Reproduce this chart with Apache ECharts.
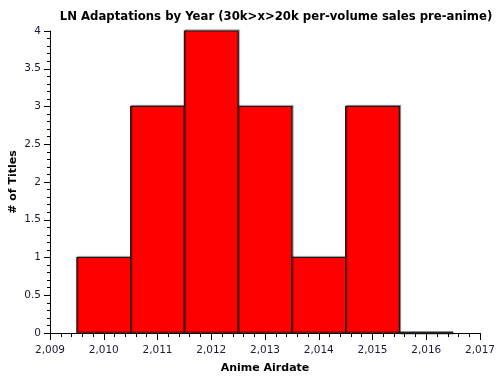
<!DOCTYPE html>
<html><head><meta charset="utf-8">
<script src="https://cdn.jsdelivr.net/npm/echarts@6/dist/echarts.min.js"></script>
<style>html,body{margin:0;padding:0;background:#fff}#c{width:500px;height:380px}</style>
</head><body><div id="c"></div>
<script>
const years = [2010, 2011, 2012, 2013, 2014, 2015, 2016];
const counts = [1, 3, 4, 3, 1, 3, 0];
const binWidth = 1;

const chart = echarts.init(document.getElementById('c'));
const font = 'DejaVu Sans, Verdana, sans-serif';
chart.setOption({
  animation: false,
  title: {
    text: 'LN Adaptations by Year (30k>x>20k per-volume sales pre-anime)',
    left: 271, top: 6, textAlign: 'center',
    textStyle: { fontFamily: font, fontSize: 11.7, fontWeight: 'bold', color: '#000' }
  },
  grid: { left: 50, right: 20, top: 31, bottom: 47, containLabel: false, outerBoundsMode: 'none' },
  xAxis: {
    type: 'value', min: 2009, max: 2017, interval: 1,
    name: 'Anime Airdate', nameLocation: 'middle', nameGap: 30, nameMoveOverlap: false,
    nameTextStyle: { fontFamily: font, fontSize: 11, fontWeight: 'bold', color: '#000' },
    axisLine: { show: true, lineStyle: { color: '#000', width: 1 } },
    axisTick: { show: true, inside: false, length: 7, lineStyle: { color: '#000' } },
    minorTick: { show: true, splitNumber: 5, length: 4, lineStyle: { color: '#000' } },
    splitLine: { show: false },
    axisLabel: { fontFamily: font, fontSize: 10.5, color: '#1a1a33', margin: 12,
      formatter: v => v.toLocaleString('en-US') }
  },
  yAxis: {
    type: 'value', min: 0, max: 4, interval: 0.5,
    name: '# of Titles', nameLocation: 'middle', nameGap: 31, nameRotate: 90, nameMoveOverlap: false,
    nameTextStyle: { fontFamily: font, fontSize: 11, fontWeight: 'bold', color: '#000' },
    axisLine: { show: true, lineStyle: { color: '#000', width: 1 } },
    axisTick: { show: true, length: 6, lineStyle: { color: '#000' } },
    minorTick: { show: true, splitNumber: 5, length: 3, lineStyle: { color: '#000' } },
    splitLine: { show: false },
    axisLabel: { fontFamily: font, fontSize: 10.5, color: '#1a1a33', margin: 9 }
  },
  series: [{
    type: 'custom',
    data: years.map((y, i) => [y - binWidth / 2, y + binWidth / 2, counts[i]]),
    renderItem: function (params, api) {
      const p0 = api.coord([api.value(0), 0]);
      const p1 = api.coord([api.value(1), api.value(2)]);
      const h = p0[1] - p1[1];
      if (h < 0.5) {
        return {
          type: 'line',
          shape: { x1: p0[0], y1: p0[1] - 0.5, x2: p1[0], y2: p0[1] - 0.5 },
          style: { stroke: '#222', lineWidth: 2, shadowColor: 'rgba(0,0,0,0.4)', shadowOffsetX: 1, shadowOffsetY: 1, shadowBlur: 1 }
        };
      }
      return {
        type: 'rect',
        shape: { x: p0[0], y: p1[1], width: p1[0] - p0[0], height: h },
        style: { fill: '#ff0000', stroke: '#1a1a1a', lineWidth: 1.2,
          shadowColor: 'rgba(0,0,0,0.45)', shadowOffsetX: 1, shadowOffsetY: -1, shadowBlur: 1 }
      };
    }
  }]
});
</script>
</body></html>
